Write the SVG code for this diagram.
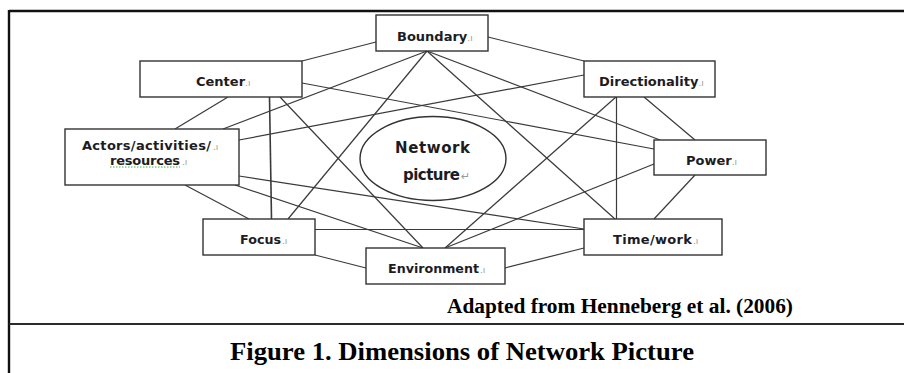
<svg xmlns="http://www.w3.org/2000/svg" width="904" height="373" viewBox="0 0 904 373">
<style>
.frame{stroke:#111;stroke-width:2.4;fill:none}
.box{fill:#fff;stroke:#333;stroke-width:1.4}
.conn line{stroke:#3a3a3a;stroke-width:1.2}
.lbl{font-family:"DejaVu Sans",Verdana,sans-serif;font-weight:bold;font-size:13px;fill:#1c1c24}
.big{font-size:15px}
.mk{fill:#9a9a9a;font-size:9px;font-weight:normal}
.cap{font-family:"Liberation Serif","Times New Roman",serif;font-weight:bold;fill:#000}
</style>
<rect width="904" height="373" fill="#fff"/>
<g id="frame">
<line class="frame" x1="9" y1="11" x2="904" y2="11"/>
<line class="frame" x1="9" y1="10" x2="9" y2="373"/>
<line x1="9" y1="324" x2="904" y2="324" stroke="#2a2a2a" stroke-width="2.2"/>
</g>
<g id="connectors" class="conn">
<line x1="302" y1="61" x2="376" y2="42"/>
<line x1="302" y1="83" x2="654" y2="149"/>
<line x1="228" y1="97" x2="175" y2="129"/>
<line x1="269.5" y1="97" x2="271.5" y2="219" style="stroke-width:1.6"/>
<line x1="280" y1="97" x2="423" y2="248"/>
<line x1="427" y1="51" x2="223" y2="129"/>
<line x1="427" y1="51" x2="288" y2="219"/>
<line x1="427" y1="51" x2="660" y2="140"/>
<line x1="427" y1="51" x2="615" y2="219"/>
<line x1="488" y1="37" x2="584" y2="61"/>
<line x1="239" y1="140" x2="584" y2="75"/>
<line x1="239" y1="176" x2="584" y2="229"/>
<line x1="235" y1="185" x2="423" y2="248"/>
<line x1="185" y1="185" x2="249" y2="219"/>
<line x1="616.5" y1="97" x2="616.5" y2="219"/>
<line x1="644" y1="97" x2="695" y2="140"/>
<line x1="616" y1="97" x2="445" y2="248"/>
<line x1="654" y1="164" x2="445" y2="248"/>
<line x1="695" y1="175" x2="654" y2="219"/>
<line x1="315" y1="229.5" x2="584" y2="229.5"/>
<line x1="315" y1="255" x2="366" y2="268"/>
<line x1="505" y1="268" x2="584" y2="248"/>
</g>
<g id="network-picture">
<ellipse cx="433" cy="158.5" rx="73" ry="42" fill="#fff" stroke="#333" stroke-width="1.4"/>
<text class="lbl big" x="395" y="152.5" textLength="75" lengthAdjust="spacing">Network</text>
<text class="lbl big" x="403" y="180" textLength="57" lengthAdjust="spacing">picture</text>
<text class="lbl mk" x="461" y="180" style="font-size:11px">↵</text>
</g>
<g id="boundary">
<rect class="box" x="376" y="15" width="112" height="36"/>
<text class="lbl" x="397" y="41">Boundary<tspan class="mk">.ı</tspan></text>
</g>
<g id="center">
<rect class="box" x="140" y="61" width="162" height="36"/>
<text class="lbl" x="196" y="86">Center<tspan class="mk">.ı</tspan></text>
</g>
<g id="directionality">
<rect class="box" x="584" y="61" width="131" height="36"/>
<text class="lbl" x="599" y="86">Directionality<tspan class="mk">.ı</tspan></text>
</g>
<g id="actors">
<rect class="box" x="65" y="129" width="174" height="56"/>
<text class="lbl" x="82" y="150" textLength="129" lengthAdjust="spacing">Actors/activities/</text>
<text class="lbl mk" x="213" y="150">.ı</text>
<text class="lbl" x="110" y="164.5" textLength="70" lengthAdjust="spacing">resources</text>
<text class="lbl mk" x="182" y="164.5">.ı</text>
<line x1="110" y1="167" x2="180" y2="167" stroke="#3cb043" stroke-width="1" stroke-dasharray="1.5 1.5"/>
</g>
<g id="power">
<rect class="box" x="654" y="140" width="112" height="35"/>
<text class="lbl" x="686" y="165">Power<tspan class="mk">.ı</tspan></text>
</g>
<g id="focus">
<rect class="box" x="203" y="219" width="112" height="36"/>
<text class="lbl" x="240" y="244" textLength="41" lengthAdjust="spacingAndGlyphs">Focus</text>
<text class="lbl mk" x="282" y="244">.ı</text>
</g>
<g id="time-work">
<rect class="box" x="584" y="219" width="138" height="36"/>
<text class="lbl" x="613" y="244" textLength="79" lengthAdjust="spacing">Time/work</text>
<text class="lbl mk" x="693" y="244">.ı</text>
</g>
<g id="environment">
<rect class="box" x="366" y="248" width="139" height="36"/>
<text class="lbl" x="388" y="273" textLength="91" lengthAdjust="spacingAndGlyphs">Environment</text>
<text class="lbl mk" x="480" y="273">.ı</text>
</g>
<text class="cap" x="447" y="313" font-size="20" textLength="346" lengthAdjust="spacingAndGlyphs">Adapted from Henneberg et al. (2006)</text>
<text class="cap" x="230" y="360" font-size="25.5" textLength="464" lengthAdjust="spacingAndGlyphs">Figure 1. Dimensions of Network Picture</text>
</svg>
